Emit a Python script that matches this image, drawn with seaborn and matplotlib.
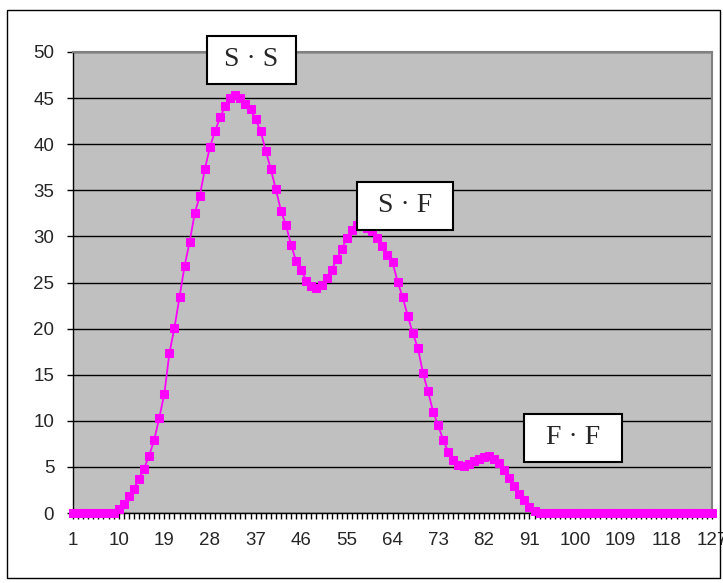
import matplotlib
matplotlib.use('Agg')
import matplotlib.pyplot as plt
import seaborn as sns
import pandas as pd
from matplotlib.patches import Rectangle

# category index 1..127 and the plotted values
categories = list(range(1, 128))
values = [
    0, 0, 0, 0, 0, 0, 0, 0, 0,
    0.4, 1.0, 1.8, 2.6, 3.7, 4.8, 6.2, 7.9, 10.3, 12.9,
    17.3, 20.1, 23.4, 26.8, 29.4, 32.5, 34.4, 37.3, 39.7, 41.4,
    42.9, 44.1, 45.0, 45.3, 45.0, 44.4, 43.8, 42.7, 41.4, 39.3,
    37.3, 35.1, 32.8, 31.2, 29.1, 27.3, 26.4, 25.2, 24.6, 24.4,
    24.7, 25.5, 26.4, 27.5, 28.6, 29.8, 30.7, 31.2, 31.1, 30.9,
    30.6, 29.8, 29.0, 28.0, 27.2, 25.1, 23.4, 21.4, 19.5, 17.9,
    15.2, 13.2, 11.0, 9.5, 7.9, 6.6, 5.7, 5.2, 5.1, 5.3,
    5.6, 5.9, 6.1, 6.2, 5.9, 5.4, 4.7, 3.8, 2.9, 2.1,
    1.4, 0.7, 0.2,
    0, 0, 0, 0, 0, 0, 0, 0, 0, 0,
    0, 0, 0, 0, 0, 0, 0, 0, 0, 0,
    0, 0, 0, 0, 0, 0, 0, 0, 0, 0,
    0, 0, 0, 0, 0,
]
xtick_pos = [1, 10, 19, 28, 37, 46, 55, 64, 73, 82, 91, 100, 109, 118, 127]
xtick_labels = [str(v) for v in xtick_pos]
yticks = [0, 5, 10, 15, 20, 25, 30, 35, 40, 45, 50]
annotations = ['S · S', 'S · F', 'F · F']

df = pd.DataFrame({'x': categories, 'y': values})

sns.set_style('white')
plt.rcParams['font.family'] = ['Liberation Sans', 'DejaVu Sans']

W, H = 723, 583
fig = plt.figure(figsize=(W / 100, H / 100), dpi=100)
ax = fig.add_axes([73 / W, 1 - 513 / H, (712 - 73) / W, (513 - 52) / H])

sns.lineplot(data=df, x='x', y='y', ax=ax, color='#FF00FF', marker='s',
             markersize=6.2, markeredgecolor='#FF00FF', linewidth=1.3,
             clip_on=False, zorder=3)

ax.set_facecolor('#C0C0C0')
ax.set_xlim(1, 127)
ax.set_ylim(0, 50)
ax.set_yticks(yticks)
ax.set_xticks(xtick_pos)
ax.set_xticklabels(xtick_labels)
ax.set_xticks(categories, minor=True)
ax.set_xlabel('')
ax.set_ylabel('')

ax.yaxis.grid(True, color='black', linewidth=1)
ax.xaxis.grid(False)
ax.set_axisbelow(True)

ax.tick_params(axis='x', which='both', direction='out', length=4, width=1,
               color='black', bottom=True, labelsize=13.5, pad=10)
ax.tick_params(axis='y', direction='out', length=4.5, width=1, color='black',
               left=True, labelsize=13.5, pad=9)

for side in ['left', 'bottom']:
    ax.spines[side].set_color('black')
    ax.spines[side].set_linewidth(1)
for side in ['top', 'right']:
    ax.spines[side].set_color('#808080')
    ax.spines[side].set_linewidth(1.5)

# label boxes (figure pixel layout)
boxes = [(207, 36, 296, 84), (357, 182, 453, 230), (524, 414, 622, 462)]
for text, (x0, y0, x1, y1) in zip(annotations, boxes):
    fig.add_artist(Rectangle((x0 / W, 1 - y1 / H), (x1 - x0) / W, (y1 - y0) / H,
                             transform=fig.transFigure, facecolor='white',
                             edgecolor='black', linewidth=1.5, zorder=5))
    fig.text((x0 + x1) / 2 / W, 1 - (y0 + y1) / 2 / H, text,
             ha='center', va='center', fontsize=20,
             family=['Liberation Serif', 'DejaVu Serif'], zorder=6)

# outer chart border
fig.add_artist(Rectangle((7 / W, 1 - 578 / H), (720 - 7) / W, (578 - 10) / H,
                         transform=fig.transFigure, fill=False,
                         edgecolor='black', linewidth=1))

fig.savefig('out.png', dpi=100)
